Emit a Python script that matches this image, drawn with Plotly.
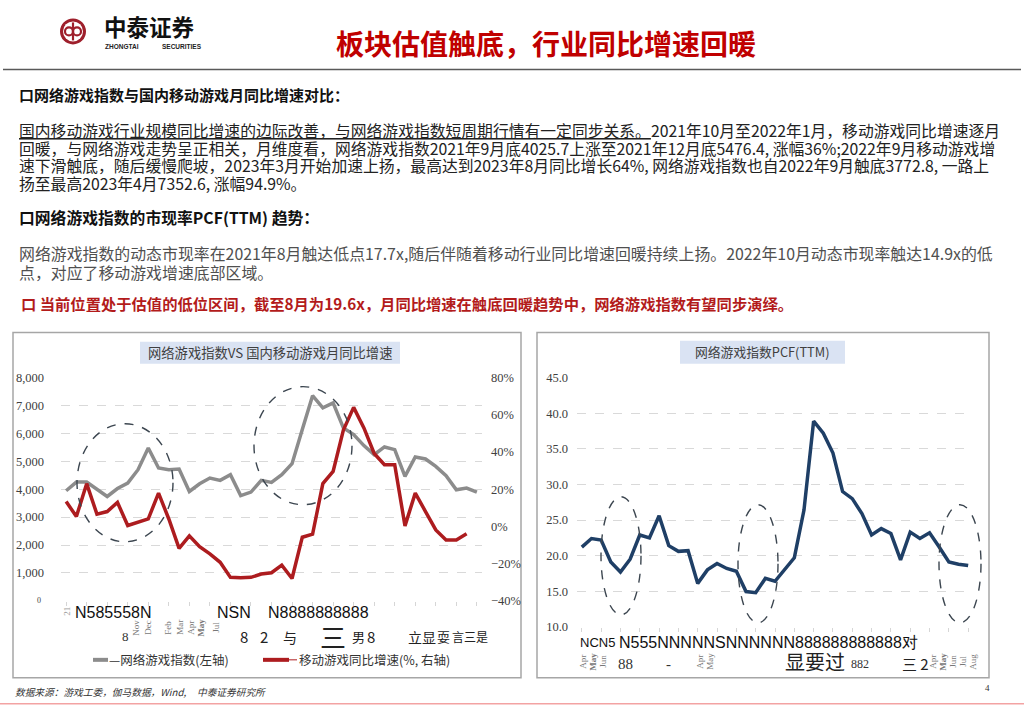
import plotly.graph_objects as go

W, H = 1024, 724

# ---- data ----
months = ["2021-04", "2021-05", "2021-06", "2021-07", "2021-08", "2021-09", "2021-10",
          "2021-11", "2021-12", "2022-01", "2022-02", "2022-03", "2022-04", "2022-05",
          "2022-06", "2022-07", "2022-08", "2022-09", "2022-10", "2022-11", "2022-12",
          "2023-01", "2023-02", "2023-03", "2023-04", "2023-05", "2023-06", "2023-07",
          "2023-08", "2023-09", "2023-10", "2023-11", "2023-12", "2024-01", "2024-02",
          "2024-03", "2024-04", "2024-05", "2024-06", "2024-07", "2024-08"]

# 网络游戏指数 (左轴)
index_vals = [3945, 4257, 4257, 3980, 3740, 4026, 4220, 4700, 5476, 4760, 4700,
              4724, 3920, 4197, 4400, 4317, 4520, 3773, 3897, 4317, 4245, 4520,
              4916, 6139, 7353, 6918, 7098, 6199, 5959, 5564, 5240, 5516, 5420,
              4460, 5156, 5084, 4820, 4484, 3981, 4041, 3897]

# 移动游戏同比增速 (%, 右轴)
yoy_vals = [13.4, 5.3, 23.0, 6.6, 8.0, 12.9, 0.5, 2.1, 4.1, 17.9, 4.0, -11.8,
            -5.1, -10.9, -14.8, -19.3, -27.4, -27.6, -27.4, -25.6, -24.9, -20.8,
            -28.0, -5.8, -4.2, 23.0, 29.6, 51.8, 64.0, 53.0, 39.2, 33.2, 33.2,
            0.3, 17.9, 8.0, -1.9, -7.3, -7.3, -4.0]

# 网络游戏指数 PCF(TTM)
pcf_vals = [21.2, 22.4, 22.2, 19.1, 17.7, 19.5, 22.9, 22.5, 25.6, 21.4, 20.6,
            20.7, 16.1, 18.0, 18.9, 18.2, 17.8, 14.95, 14.8, 16.8, 16.4, 18.1,
            19.7, 26.4, 38.9, 37.2, 34.4, 29.0, 28.0, 25.9, 22.9, 23.8, 23.1,
            19.4, 23.3, 22.4, 23.2, 21.2, 19.1, 18.8, 18.6]

CJK = "Noto Sans CJK SC"
SERIF = "Liberation Serif"
SANS = "Liberation Sans"


def fx(x):
    return x / W


def fy(y):
    # the page comes out slightly squeezed vertically, compensate
    return 1 - (y - 7.6) / 0.98 / H


fig = go.Figure()
fig.add_trace(go.Scatter(x=months, y=index_vals, mode="lines", name="网络游戏指数(左轴)",
                         line=dict(color="#8c8c8c", width=3.5), xaxis="x", yaxis="y"))
fig.add_trace(go.Scatter(x=months[:len(yoy_vals)], y=yoy_vals, mode="lines",
                         name="移动游戏同比增速(%, 右轴)",
                         line=dict(color="#ad1c1f", width=3.5), xaxis="x", yaxis="y2"))
fig.add_trace(go.Scatter(x=months, y=pcf_vals, mode="lines", name="PCF(TTM)",
                         line=dict(color="#1f3f66", width=3.5), xaxis="x2", yaxis="y3"))

tickfont = dict(family=SERIF, size=12.5, color="#404040")
xcommon = dict(type="category", range=[-0.5, len(months) - 0.5], showgrid=False,
               showticklabels=False, ticks="outside", ticklen=4, tickcolor="#d6d6d6",
               showline=False, zeroline=False)

shapes = []
ann = []


def text(x, y, s, size=14, color="#222", family=CJK, xanchor="left", angle=0, **kw):
    ann.append(dict(x=fx(x), y=fy(y), xref="paper", yref="paper", text=s, showarrow=False,
                    xanchor=xanchor, yanchor="middle", textangle=angle,
                    font=dict(family=family, size=size, color=color, **kw)))


def rect(x0, y0, x1, y1, line="#a6a6a6", fill="rgba(0,0,0,0)", width=1.5):
    shapes.append(dict(type="rect", xref="paper", yref="paper", x0=fx(x0), x1=fx(x1),
                       y0=fy(y1), y1=fy(y0), line=dict(color=line, width=width),
                       fillcolor=fill, layer="below"))


def hline(x0, x1, y, color, width=1.5):
    shapes.append(dict(type="line", xref="paper", yref="paper", x0=fx(x0), x1=fx(x1),
                       y0=fy(y), y1=fy(y), line=dict(color=color, width=width)))


def ellipse(x0, y0, x1, y1):
    shapes.append(dict(type="circle", xref="paper", yref="paper", x0=fx(x0), x1=fx(x1),
                       y0=fy(y1), y1=fy(y0),
                       line=dict(color="#3c4650", width=1.4, dash="dash")))


# ---- header ----
shapes.append(dict(type="circle", xref="paper", yref="paper", x0=fx(60), x1=fx(86),
                   y0=fy(45), y1=fy(19), fillcolor="#9e1f2b", line=dict(width=0)))
shapes.append(dict(type="circle", xref="paper", yref="paper", x0=fx(63), x1=fx(83),
                   y0=fy(42), y1=fy(22), fillcolor="white", line=dict(width=0)))
shapes.append(dict(type="circle", xref="paper", yref="paper", x0=fx(65), x1=fx(73),
                   y0=fy(36), y1=fy(28), line=dict(color="#9e1f2b", width=2.2)))
shapes.append(dict(type="circle", xref="paper", yref="paper", x0=fx(73), x1=fx(81),
                   y0=fy(36), y1=fy(28), line=dict(color="#9e1f2b", width=2.2)))
shapes.append(dict(type="line", xref="paper", yref="paper", x0=fx(73), x1=fx(73),
                   y0=fy(41), y1=fy(23), line=dict(color="#9e1f2b", width=2.2)))
text(102, 27, "<b>中泰证券</b>", size=22.5, color="#111")
text(103, 47, "<b>ZHONGTAI</b>", size=6.5, color="#222", family=SANS)
text(160, 47, "<b>SECURITIES</b>", size=6.5, color="#222", family=SANS)
text(546, 44, "<b>板块估值触底，行业同比增速回暖</b>", size=28, color="#c00000",
     xanchor="center")
hline(3, 1021, 70, "#595959", 1.5)

# ---- body text ----
text(17, 95, "<b>口网络游戏指数与国内移动游戏月同比增速对比：</b>", size=15, color="#111")
para1 = [
    "<u>国内移动游戏行业规模同比增速的边际改善，与网络游戏指数短周期行情有一定同步关系。</u>"
    "2021年10月至2022年1月，移动游戏同比增速逐月",
    "回暖，与网络游戏走势呈正相关，月维度看，网络游戏指数2021年9月底4025.7上涨至2021年12月底"
    "5476.4, 涨幅36%;2022年9月移动游戏增",
    "速下滑触底，随后缓慢爬坡，2023年3月开始加速上扬，最高达到2023年8月同比增长64%, "
    "网络游戏指数也自2022年9月触底3772.8, 一路上",
    "扬至最高2023年4月7352.6, 涨幅94.9%。",
]
for i, line in enumerate(para1):
    text(17, 131 + i * 17.7, line, size=15.8, color="#222")
text(17, 218, "<b>口网络游戏指数的市现率PCF(TTM) 趋势：</b>", size=15.8, color="#111")
para2 = [
    "网络游戏指数的动态市现率在2021年8月触达低点17.7x,随后伴随着移动行业同比增速回暖持续上扬。"
    "2022年10月动态市现率触达14.9x的低",
    "点，对应了移动游戏增速底部区域。",
]
for i, line in enumerate(para2):
    text(17, 254 + i * 19, line, size=15.9, color="#505050")
text(19, 303, "<b>口 当前位置处于估值的低位区间，截至8月为19.6x，月同比增速在触底回暖趋势中，"
     "网络游戏指数有望同步演绎。</b>", size=15.3, color="#b31b1b")

# ---- chart frames ----
rect(13, 333, 521, 678)
rect(537, 333, 989, 678)
rect(140, 342, 400, 364, line="#dae3f3", fill="#dae3f3", width=0)
rect(680, 341, 845, 364, line="#dae3f3", fill="#dae3f3", width=0)
text(270, 353, "网络游戏指数VS 国内移动游戏月同比增速", size=13.3, color="#404040",
     xanchor="center")
text(762, 352, "网络游戏指数PCF(TTM)", size=12.8, color="#404040", xanchor="center")

ellipse(77, 424, 173, 542)
ellipse(254, 387, 352, 505)
ellipse(601, 497, 641, 615)
ellipse(738, 505, 778, 623)
ellipse(939, 505, 981, 623)

text(43, 601, "0", size=8, color="#404040", family=SERIF, xanchor="right")

# garbled axis labels as they appear in the picture
text(67, 612, "21", size=9, color="#999", family=SERIF, xanchor="center", angle=-90)
text(73, 613, "N585558N", size=16, color="#111", family=SANS)
text(215, 613, "NSN", size=16, color="#111", family=SANS)
text(266, 613, "N8888888888", size=16, color="#111", family=SANS)
text(125, 637, "8", size=13, color="#333", family=SERIF, xanchor="center")
for lx, lab in [(136, "Nov"), (148, "Dec"), (168, "Feb"), (180, "Mar"), (191, "Apr"),
                (201, "<b>May</b>"), (216, "Jul")]:
    text(lx, 628, lab, size=9, color="#777", family=SERIF, xanchor="center", angle=-90)
for lx, lab, sz in [(244, "8", 15), (264, "2", 15), (290, "与", 14), (333, "三", 26),
                    (358, "男", 13), (371, "8", 15), (422, "立显", 14), (443, "耍", 13),
                    (470, "言三是", 12)]:
    text(lx, 637, lab, size=sz, color="#222", xanchor="center")

text(578, 643, "NCN5", size=13, color="#111", family=SANS)
text(617, 643, "N555NNNNNSNNNNNN888888888888对", size=16, color="#111", family=SANS)
for lx, lab in [(583, "Apr"), (593, "<b>May</b>"), (603, "Jun"), (700, "Apr"), (710, "May"),
                (933, "Apr"), (943, "<b>May</b>"), (953, "Jun"), (963, "Jul"), (973, "Aug")]:
    text(lx, 662, lab, size=9, color="#777", family=SERIF, xanchor="center", angle=-90)
text(625, 664, "88", size=15, color="#333", family=SERIF, xanchor="center")
text(668, 664, "-", size=15, color="#333", family=SERIF, xanchor="center")
text(815, 662, "显要过", size=20, color="#222", xanchor="center")
text(860, 664, "882", size=12, color="#333", family=SERIF, xanchor="center")
text(915, 664, "三 2", size=15, color="#222", xanchor="center")

# ---- legend of left chart ----
hline(93, 108, 660, "#8c8c8c", 4)
text(107, 660, "—网络游戏指数(左轴)", size=12.5, color="#333")
hline(263, 289, 660, "#ad1c1f", 4)
hline(289, 297, 660, "#ad1c1f", 1)
text(297, 660, "移动游戏同比增速(%, 右轴)", size=12.5, color="#333")

# ---- footer ----
text(13, 692, "数据来源：游戏工委，伽马数据，Wind,     中泰证券研究所", size=9.7, color="#333",
     style="italic")
text(987, 688, "4", size=9, color="#333", family=SERIF, xanchor="center")
hline(0, 1024, 704, "#f3a3a3", 1.5)

fig.update_layout(
    width=W, height=H, margin=dict(l=0, r=0, t=0, b=0),
    paper_bgcolor="white", plot_bgcolor="white", showlegend=False,
    xaxis=dict(domain=[fx(61), fx(482)], anchor="y", **xcommon),
    yaxis=dict(domain=[fy(601), fy(378)], range=[0, 8000], tickvals=[1000, 2000, 3000, 4000,
               5000, 6000, 7000, 8000], tickformat=",", showgrid=True, gridcolor="#d9d9d9",
               griddash="dash", zeroline=False, showline=False, tickfont=tickfont,
               ticklabelstandoff=16),
    yaxis2=dict(overlaying="y", side="right", anchor="x", range=[-40, 80], dtick=20,
                ticksuffix="%", showgrid=False, zeroline=False, showline=False,
                tickfont=tickfont, ticklabelstandoff=8),
    xaxis2=dict(domain=[fx(577), fx(973)], anchor="y3", **xcommon),
    yaxis3=dict(domain=[fy(627), fy(378)], anchor="x2", range=[10, 45], dtick=5,
                tickformat=".1f", showgrid=True, gridcolor="#d9d9d9", griddash="dash",
                zeroline=False, showline=False, tickfont=tickfont, ticklabelstandoff=8),
    shapes=shapes, annotations=ann,
)
fig.write_html("out.html", config={"displayModeBar": False},
               post_script="document.body.style.margin='0';document.body.style.overflow='hidden';")
